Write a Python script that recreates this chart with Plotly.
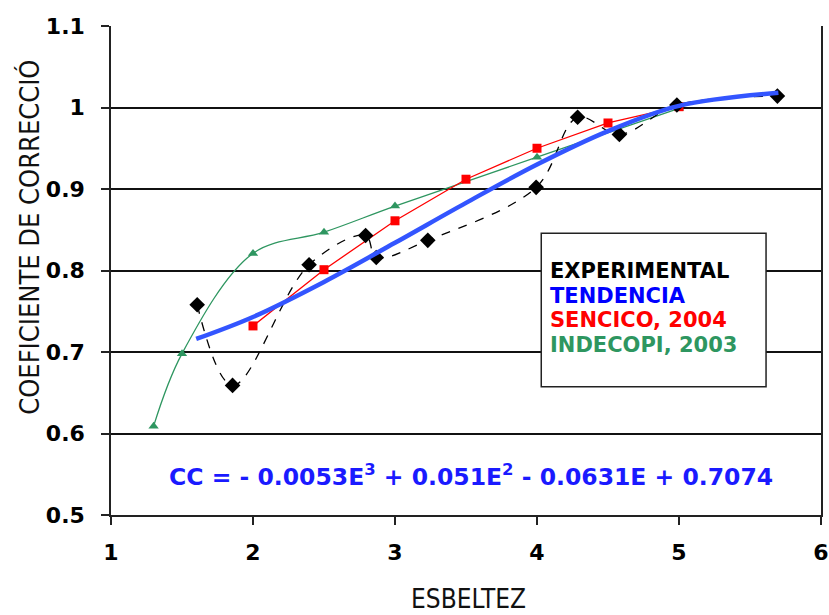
import plotly.graph_objects as go

# ---------------- data ----------------
exp_x = [1.607, 1.856, 2.395, 2.793, 2.868, 3.231, 3.994, 4.286, 4.58, 4.985, 5.693]
exp_y = [0.758, 0.659, 0.807, 0.843, 0.816, 0.837, 0.902, 0.988, 0.967, 1.003, 1.014]

tend_x = [1.6, 2.0, 2.5, 3.0, 3.5, 4.0, 4.5, 5.0, 5.7]
tend_y = [0.716, 0.743, 0.786, 0.834, 0.883, 0.930, 0.971, 1.002, 1.018]

sen_x = [2.0, 2.5, 3.0, 3.5, 4.0, 4.5, 5.0]
sen_y = [0.732, 0.801, 0.861, 0.912, 0.950, 0.981, 1.001]

ind_x = [1.3, 1.5, 2.0, 2.5, 3.0, 4.0, 5.0]
ind_y = [0.609, 0.698, 0.821, 0.847, 0.879, 0.939, 0.999]

x_ticks = [1, 2, 3, 4, 5, 6]
y_ticks = [0.5, 0.6, 0.7, 0.8, 0.9, 1.0, 1.1]
y_grid = [0.6, 0.7, 0.8, 0.9, 1.0]

legend_labels = ["EXPERIMENTAL", "TENDENCIA", "SENCICO, 2004", "INDECOPI, 2003"]
legend_colors = ["#000000", "#0000ff", "#ff0000", "#2e9660"]
equation = "CC = - 0.0053E<sup>3</sup> + 0.051E<sup>2</sup> - 0.0631E + 0.7074"
x_title = "ESBELTEZ"
y_title = "COEFICIENTE DE CORRECCIÓ"

BOLD = "DejaVu Sans, sans-serif"
NARROW = "Liberation Sans Narrow, DejaVu Sans Condensed, Arial Narrow, DejaVu Sans, sans-serif"

fig = go.Figure()

fig.add_trace(go.Scatter(
    x=ind_x, y=ind_y, mode="lines+markers", line=dict(color="#2e9660", width=1.3, shape="spline"),
    marker=dict(symbol="triangle-up", size=9, color="#2e9660"), name="INDECOPI, 2003"))
fig.add_trace(go.Scatter(
    x=sen_x, y=sen_y, mode="lines+markers", line=dict(color="#ff0000", width=1.3),
    marker=dict(symbol="square", size=9, color="#ff0000"), name="SENCICO, 2004"))
fig.add_trace(go.Scatter(
    x=exp_x, y=exp_y, mode="lines+markers",
    line=dict(color="#000000", width=1.3, shape="spline", dash="dash"),
    marker=dict(symbol="diamond", size=12, color="#000000"), name="EXPERIMENTAL"))
fig.add_trace(go.Scatter(
    x=tend_x, y=tend_y, mode="lines", line=dict(color="#3355ff", width=4.5, shape="spline"),
    name="TENDENCIA"))

# legend box
fig.add_shape(type="rect", xref="x", yref="y", x0=4.03, x1=5.613, y0=0.6574, y1=0.8456,
              line=dict(color="#222222", width=1.5), fillcolor="white", layer="above")
leg_y = [0.799, 0.769, 0.739, 0.708]
for lab, col, yy in zip(legend_labels, legend_colors, leg_y):
    fig.add_annotation(x=4.08, y=yy, xref="x", yref="y", text=lab, showarrow=False,
                       xanchor="left", yanchor="middle",
                       font=dict(family=BOLD, size=21, color=col, weight="bold"))

fig.add_annotation(x=3.535, y=0.549, xref="x", yref="y", text=equation, showarrow=False,
                   xanchor="center", yanchor="middle",
                   font=dict(family=BOLD, size=23.5, color="#1a1aff", weight="bold"))

fig.add_annotation(x=0.503, y=-0.2045, xref="paper", yref="paper", text=x_title, showarrow=False,
                   xanchor="center", yanchor="bottom", borderpad=0,
                   font=dict(family=NARROW, size=26, color="#111111"))
fig.add_annotation(x=-0.114, y=0.567, xref="paper", yref="paper", text=y_title, showarrow=False,
                   textangle=-90, xanchor="center", yanchor="middle",
                   font=dict(family=NARROW, size=27, color="#111111"))

fig.update_layout(
    template="none",
    width=829, height=615,
    margin=dict(l=111, r=8, t=26, b=100, autoexpand=False),
    plot_bgcolor="white", paper_bgcolor="white",
    showlegend=False,
    xaxis=dict(range=[1, 6], tickvals=x_ticks, showgrid=False, zeroline=False, automargin=False,
               showline=True, linecolor="#222222", linewidth=2,
               ticks="outside", ticklen=8, tickcolor="#222222", tickwidth=1.5,
               ticklabelstandoff=9,
               tickfont=dict(family=BOLD, size=22, color="black", weight="bold")),
    yaxis=dict(range=[0.5, 1.1], tickvals=y_ticks, showgrid=False, zeroline=False, automargin=False,
               showline=True, linecolor="#222222", linewidth=1.5, mirror=True,
               ticks="outside", ticklen=8, tickcolor="#222222", tickwidth=1.5,
               ticklabelstandoff=12,
               tickfont=dict(family=BOLD, size=22, color="black", weight="bold"),
               minor=dict(tickvals=y_grid, showgrid=True, gridcolor="#111111", gridwidth=1.5, ticks="")),
)

fig.write_html("out.html", config={"displayModeBar": False},
               post_script="document.body.style.margin='0';document.body.style.overflow='hidden';")
